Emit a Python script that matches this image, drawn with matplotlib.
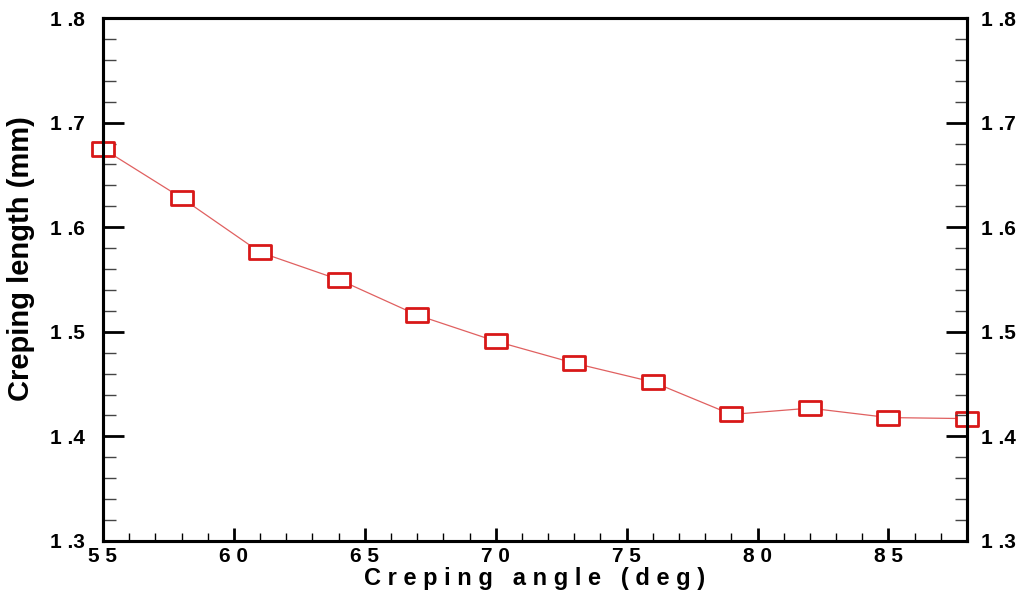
import matplotlib.pyplot as plt
from matplotlib.path import Path
from matplotlib.ticker import MultipleLocator

angle = [55, 58, 61, 64, 67, 70, 73, 76, 79, 82, 85, 88]
length = [1.675, 1.628, 1.576, 1.550, 1.516, 1.491, 1.470, 1.452,
          1.421, 1.427, 1.418, 1.417]

x_ticks = [55, 60, 65, 70, 75, 80, 85]
x_labels = ["5 5", "6 0", "6 5", "7 0", "7 5", "8 0", "8 5"]
y_ticks = [1.3, 1.4, 1.5, 1.6, 1.7, 1.8]
y_labels = ["1 .3", "1 .4", "1 .5", "1 .6", "1 .7", "1 .8"]

plt.rcParams['font.family'] = ['Liberation Sans', 'DejaVu Sans']

# flat rectangle marker
rect = Path([(-1, -0.6), (1, -0.6), (1, 0.6), (-1, 0.6), (-1, -0.6)],
            [Path.MOVETO, Path.LINETO, Path.LINETO, Path.LINETO, Path.CLOSEPOLY])

fig = plt.figure(figsize=(10.21, 5.96), dpi=100)
ax = fig.add_axes([103 / 1021, 1 - 541 / 596, 864 / 1021, 523 / 596])

ax.plot(angle, length, color="#e06060", lw=0.9, zorder=2)
ax.plot(angle, length, ls="none", marker=rect, markersize=16,
        markerfacecolor="white", markeredgecolor="#d81818", markeredgewidth=2.0,
        clip_on=False, zorder=3)

ax.set_xlim(55, 88)
ax.set_ylim(1.3, 1.8)

for s in ax.spines.values():
    s.set_linewidth(2.2)

ax.set_xticks(x_ticks)
ax.set_xticklabels(x_labels, fontsize=15, fontweight="bold")
ax.xaxis.set_minor_locator(MultipleLocator(1))
ax.set_yticks(y_ticks)
ax.set_yticklabels(y_labels, fontsize=15, fontweight="bold")
ax.yaxis.set_minor_locator(MultipleLocator(0.02))

ax.tick_params(axis="x", which="major", direction="in", length=9.5, width=2,
               top=False, pad=4)
ax.tick_params(axis="x", which="minor", direction="in", length=6, width=1,
               top=False)
ax.tick_params(axis="y", which="major", direction="in", length=15, width=2,
               left=True, right=False, pad=13)
ax.tick_params(axis="y", which="minor", direction="in", length=9, width=1,
               color="#444444", left=True, right=False)

# right-hand axis with the same scale
ax2 = ax.twinx()
ax2.set_ylim(1.3, 1.8)
ax2.set_yticks(y_ticks)
ax2.set_yticklabels(y_labels, fontsize=15, fontweight="bold")
ax2.yaxis.set_minor_locator(MultipleLocator(0.02))
ax2.tick_params(axis="y", which="major", direction="in", length=15, width=2,
                pad=10)
ax2.tick_params(axis="y", which="minor", direction="in", length=9, width=1,
                color="#444444")
for s in ax2.spines.values():
    s.set_linewidth(2.2)

ax.set_xlabel("C r e p i n g   a n g l e   ( d e g )", fontsize=17,
              fontweight="bold", labelpad=1)
ax.set_ylabel("Creping length (mm)", fontsize=21, fontweight="bold")
ax.yaxis.set_label_coords(-0.079, 0.54)

fig.savefig("out.png", dpi=100)
